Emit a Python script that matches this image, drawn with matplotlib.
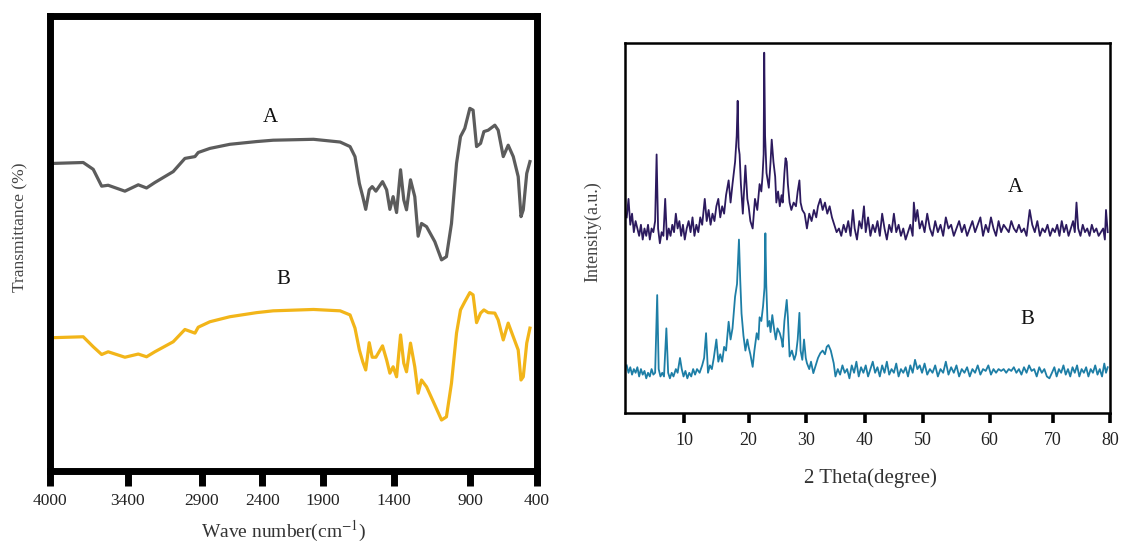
import numpy as np
import matplotlib
matplotlib.use("Agg")
import matplotlib.pyplot as plt

plt.rcParams['font.family'] = ['Liberation Serif', 'DejaVu Serif']
plt.rcParams['mathtext.fontset'] = 'stix'

# ---------------- FTIR data (left panel) ----------------
wavenumber = [3975, 3744, 3667, 3602, 3552, 3423, 3330, 3274, 3218, 3094, 3015, 2947, 2925, 2834,
              2669, 2448, 2311, 1980, 1780, 1710, 1675, 1644, 1620, 1599, 1574, 1553, 1527, 1480,
              1451, 1428, 1405, 1382, 1356, 1335, 1317, 1291, 1263, 1241, 1219, 1186, 1132, 1088,
              1056, 1023, 990, 964, 936, 903, 879, 853, 823, 798, 766, 716, 691, 653, 616, 578,
              541, 520, 503, 477, 453]
trans_A = [67.6, 67.8, 66.3, 62.6, 62.8, 61.5, 62.9, 62.2, 63.4, 65.8, 68.7, 69.1, 70.0, 70.9,
           71.8, 72.4, 72.7, 72.9, 72.3, 71.3, 69.1, 63.2, 60.3, 57.5, 61.8, 62.5, 61.5, 63.6,
           61.8, 57.5, 60.3, 56.8, 66.2, 59.6, 57.4, 64.0, 60.3, 51.6, 54.4, 53.7, 50.4, 46.4,
           47.1, 54.4, 67.6, 73.5, 75.3, 79.7, 79.3, 71.3, 72.0, 74.6, 74.9, 76.0, 74.9, 69.1,
           71.6, 69.1, 64.7, 55.9, 57.4, 65.4, 68.0]
trans_B = [29.3, 29.5, 27.3, 25.6, 26.2, 25.0, 25.7, 25.1, 26.2, 28.4, 31.1, 30.3, 31.6, 32.8,
           33.9, 34.8, 35.2, 35.5, 35.2, 34.3, 31.4, 26.6, 24.0, 22.2, 28.2, 25.0, 25.0, 27.5,
           24.4, 21.5, 22.9, 20.7, 29.9, 23.7, 21.8, 28.1, 22.9, 17.1, 20.0, 18.5, 14.5, 11.2,
           11.9, 19.3, 30.3, 35.4, 37.2, 39.2, 38.7, 32.6, 34.7, 35.4, 34.8, 34.7, 33.2, 28.8,
           32.5, 29.5, 26.6, 20.0, 20.7, 28.1, 31.4]
ir_ticks = [4000, 3400, 2900, 2400, 1900, 1400, 900, 400]

# ---------------- XRD data (right panel) ----------------
xrd_A = [(0.3, 53), (0.6, 58), (0.9, 51), (1.2, 54), (1.5, 49), (1.8, 52), (2.1, 50), (2.4, 48),
         (2.7, 51), (3.0, 47), (3.3, 50), (3.6, 48), (3.9, 51), (4.2, 47), (4.5, 50), (4.8, 49),
         (5.1, 52), (5.35, 70), (5.6, 50), (5.9, 46), (6.2, 49), (6.5, 48), (6.8, 58), (7.1, 47),
         (7.4, 50), (7.7, 48), (8.0, 51), (8.3, 49), (8.6, 54), (8.9, 50), (9.2, 52), (9.5, 48),
         (9.8, 51), (10.1, 47), (10.4, 50), (10.7, 52), (11.0, 49), (11.3, 53), (11.6, 48),
         (11.9, 51), (12.2, 49), (12.5, 53), (12.8, 51), (13.2, 58), (13.5, 52), (13.8, 55),
         (14.1, 51), (14.4, 54), (14.7, 52), (15.0, 56), (15.3, 58), (15.6, 53), (15.9, 56),
         (16.2, 54), (16.5, 59), (16.9, 63), (17.2, 57), (17.5, 62), (17.9, 68), (18.15, 75),
         (18.3, 84.5), (18.45, 72), (18.6, 70), (18.8, 62), (19.1, 54), (19.5, 67), (19.8, 58),
         (20.0, 56), (20.3, 52), (20.7, 50), (21.1, 58), (21.5, 55), (21.9, 62), (22.2, 60),
         (22.4, 64), (22.6, 70), (22.7, 97.5), (22.85, 75), (23.1, 65), (23.5, 61), (23.8, 68),
         (24.0, 74), (24.3, 68), (24.6, 64), (24.8, 57), (25.1, 60), (25.4, 56), (25.7, 59),
         (25.9, 57), (26.2, 65), (26.4, 69), (26.6, 68), (26.8, 62), (27.1, 57), (27.4, 55),
         (27.8, 57), (28.2, 56), (28.5, 60), (28.8, 63), (29.0, 57), (29.3, 55), (29.7, 54),
         (30.1, 50), (30.5, 54), (30.9, 52), (31.3, 55), (31.7, 53), (32.0, 56), (32.4, 58),
         (32.8, 55), (33.2, 57), (33.6, 54), (34.0, 56), (34.4, 53), (34.8, 51), (35.2, 49),
         (35.6, 50), (36.0, 48), (36.4, 51), (36.8, 49), (37.2, 52), (37.6, 48), (38.0, 55),
         (38.3, 50), (38.7, 47), (39.1, 52), (39.5, 50), (39.9, 56), (40.2, 49), (40.6, 53),
         (41.0, 48), (41.4, 51), (41.8, 49), (42.2, 52), (42.6, 48), (43.0, 54), (43.4, 50),
         (43.8, 47), (44.2, 51), (44.6, 49), (45.0, 54), (45.4, 49), (45.8, 51), (46.2, 48),
         (46.6, 50), (47.0, 47), (47.4, 49), (47.8, 51), (48.2, 48), (48.4, 57), (48.7, 52),
         (49.0, 55), (49.4, 50), (49.8, 52), (50.2, 49), (50.6, 54), (51.0, 50), (51.4, 48),
         (51.8, 52), (52.2, 49), (52.6, 51), (53.0, 48), (53.4, 53), (53.8, 50), (54.2, 51),
         (54.6, 48), (55.0, 50), (55.4, 52), (55.8, 49), (56.2, 51), (56.6, 48), (57.0, 50),
         (57.4, 52), (57.8, 49), (58.2, 51), (58.6, 53), (59.0, 48), (59.4, 51), (59.8, 49),
         (60.2, 53), (60.6, 50), (61.0, 48), (61.4, 52), (61.8, 49), (62.2, 51), (62.6, 50),
         (63.0, 49), (63.4, 52), (63.8, 50), (64.2, 49), (64.6, 51), (65.0, 49), (65.4, 50),
         (65.8, 48), (66.3, 55), (66.7, 51), (67.1, 49), (67.5, 52), (67.9, 48), (68.3, 50),
         (68.7, 49), (69.1, 51), (69.5, 48), (69.9, 50), (70.3, 49), (70.7, 51), (71.1, 48),
         (71.5, 52), (71.9, 49), (72.3, 51), (72.7, 48), (73.1, 50), (73.5, 52), (73.8, 49),
         (74.1, 57), (74.4, 50), (74.8, 48), (75.2, 51), (75.6, 49), (76.0, 50), (76.4, 48),
         (76.8, 51), (77.2, 49), (77.6, 50), (78.0, 48), (78.4, 49), (78.8, 50), (79.1, 47),
         (79.3, 55), (79.6, 49)]
xrd_B = [(0.3, 13), (0.6, 11), (0.9, 12.5), (1.2, 10.5), (1.5, 12), (1.8, 11), (2.1, 12.5),
         (2.4, 10), (2.7, 12), (3.0, 10.5), (3.3, 11.5), (3.6, 9.5), (3.9, 11), (4.2, 10),
         (4.5, 12), (4.8, 10.5), (5.1, 11), (5.45, 32), (5.7, 12), (6.0, 10), (6.3, 11),
         (6.6, 10), (7.0, 23), (7.3, 11), (7.6, 9.5), (7.9, 11), (8.2, 10), (8.6, 12), (8.9, 11),
         (9.3, 15), (9.6, 12), (9.9, 10), (10.2, 11.5), (10.5, 9.5), (10.8, 11), (11.1, 10),
         (11.4, 12), (11.7, 10.5), (12.0, 12), (12.4, 11), (12.8, 13), (13.1, 15), (13.4, 21.7),
         (13.7, 11), (14.0, 13), (14.3, 12), (14.6, 15), (15.0, 20), (15.3, 14), (15.6, 16),
         (15.9, 14), (16.2, 18), (16.5, 17), (16.9, 24.8), (17.2, 20), (17.5, 23), (17.9, 31.6),
         (18.2, 35), (18.5, 47), (18.7, 36), (18.9, 27), (19.2, 21), (19.5, 17), (19.8, 20),
         (20.0, 18), (20.3, 16), (20.7, 12.6), (21.0, 17), (21.4, 21.7), (21.7, 20), (21.9, 26),
         (22.2, 25), (22.5, 29), (22.75, 34), (22.9, 48.7), (23.05, 35), (23.3, 23.5), (23.6, 25),
         (23.8, 22), (24.1, 26.6), (24.4, 23), (24.7, 20), (25.0, 23), (25.4, 21.7), (25.7, 20),
         (25.9, 18), (26.2, 25), (26.6, 30.7), (26.8, 26), (27.1, 15.4), (27.5, 17), (27.9, 14.5),
         (28.2, 16), (28.5, 20), (28.8, 27.2), (29.0, 17), (29.3, 14.5), (29.6, 20), (29.9, 15),
         (30.1, 13.6), (30.5, 12), (30.8, 14), (31.2, 10.9), (31.6, 13), (32.0, 15), (32.4, 16.3),
         (32.8, 17), (33.2, 16), (33.5, 18), (33.8, 18.5), (34.2, 17), (34.7, 13.6), (35.0, 10),
         (35.4, 12), (35.8, 10.5), (36.2, 13), (36.6, 11), (37.0, 12), (37.4, 9.5), (37.8, 13),
         (38.2, 11), (38.6, 14), (39.0, 10), (39.4, 12.5), (39.8, 11), (40.2, 13), (40.6, 10),
         (41.0, 12), (41.4, 14), (41.8, 11), (42.2, 12.5), (42.6, 10), (43.0, 13), (43.4, 11),
         (43.8, 14), (44.2, 10.5), (44.6, 12), (45.0, 11), (45.4, 13.5), (45.8, 10), (46.2, 12),
         (46.6, 11), (47.0, 12.5), (47.4, 10), (47.8, 13), (48.2, 11), (48.6, 14.5), (49.0, 12),
         (49.4, 13), (49.8, 11), (50.2, 13.5), (50.6, 10.5), (51.0, 12), (51.4, 11), (51.8, 13),
         (52.2, 10), (52.6, 12), (53.0, 11), (53.4, 14), (53.8, 10.5), (54.2, 12.5), (54.6, 11),
         (55.0, 13), (55.4, 10), (55.8, 12), (56.2, 11), (56.6, 12.5), (57.0, 10), (57.4, 12),
         (57.8, 11), (58.2, 13), (58.6, 10.5), (59.0, 12), (59.4, 11.5), (59.8, 13), (60.2, 10.5),
         (60.6, 12), (61.0, 11), (61.4, 12), (61.8, 11.5), (62.2, 12), (62.6, 11), (63.0, 12),
         (63.4, 11.5), (63.8, 12.5), (64.2, 11), (64.6, 12), (65.0, 10.5), (65.4, 12.5), (65.8, 11),
         (66.2, 13), (66.6, 11.5), (67.0, 12), (67.4, 10), (67.8, 12.5), (68.2, 11), (68.6, 12),
         (69.0, 10), (69.4, 9.5), (69.8, 11), (70.2, 12.5), (70.6, 10), (71.0, 12), (71.4, 11),
         (71.8, 13), (72.2, 10.5), (72.6, 12), (73.0, 10), (73.4, 12.5), (73.8, 11), (74.2, 13),
         (74.6, 10), (75.0, 12), (75.4, 11), (75.8, 12.5), (76.2, 10), (76.6, 12), (77.0, 11),
         (77.4, 13), (77.8, 10.5), (78.2, 12), (78.6, 10), (79.0, 13.5), (79.3, 11), (79.6, 12.5)]
xrd_ticks = [10, 20, 30, 40, 50, 60, 70, 80]

# ---------------- figure ----------------
fig = plt.figure(figsize=(11.23, 5.46), dpi=100)
axL = fig.add_axes([0.0445, 0.1374, 0.4337, 0.8333])
axR = fig.add_axes([0.5565, 0.2427, 0.4319, 0.6777])

# the original axes are drawn with unevenly spaced tick marks: reproduce with a piecewise scale
ir_anchor_w = [400, 900, 1400, 1900, 2400, 2900, 3400, 4000]
ir_anchor_p = [0.0, 0.137, 0.294, 0.439, 0.564, 0.688, 0.840, 1.0]
axL.set_xscale('function', functions=(lambda w: np.interp(w, ir_anchor_w, ir_anchor_p),
                                      lambda p: np.interp(p, ir_anchor_p, ir_anchor_w)))
xrd_anchor_t = [0, 10, 20, 30, 40, 50, 60, 70, 80]
xrd_anchor_p = [0.0, 0.122, 0.255, 0.374, 0.494, 0.615, 0.752, 0.883, 1.0]
axR.set_xscale('function', functions=(lambda t: np.interp(t, xrd_anchor_t, xrd_anchor_p),
                                      lambda p: np.interp(p, xrd_anchor_p, xrd_anchor_t)))

# left: FTIR
axL.plot(wavenumber, trans_A, color='#5c5c5c', lw=2.3, solid_joinstyle='round')
axL.plot(wavenumber, trans_B, color='#f2b519', lw=2.3, solid_joinstyle='round')
axL.set_xlim(4000, 400)
axL.set_ylim(0, 100)
axL.set_yticks([])
axL.set_xticks(ir_ticks)
axL.set_xticklabels([str(t) for t in ir_ticks])
for sp in axL.spines.values():
    sp.set_linewidth(5)
axL.tick_params(axis='x', direction='out', length=11, width=5, pad=5,
                labelsize=12.5, labelcolor='#222222')
axL.text(2338, 77.8, 'A', fontsize=15, ha='center', va='center', color='#111111')
axL.text(2231, 42.0, 'B', fontsize=15, ha='center', va='center', color='#111111')
axL.set_xlabel('Wave number(cm$^{-1}$)', fontsize=14, color='#333333', va='center')
axL.xaxis.set_label_coords(0.480, -0.132)
axL.set_ylabel('Transmittance (%)', fontsize=12.5, color='#444444', va='center')
axL.yaxis.set_label_coords(-0.0616, 0.536)

# right: XRD
tA = [p[0] for p in xrd_A]
iA = [p[1] for p in xrd_A]
tB = [p[0] for p in xrd_B]
iB = [p[1] for p in xrd_B]
axR.plot(tA, iA, color='#2c1a5e', lw=1.3)
axR.plot(tB, iB, color='#1d7ea6', lw=1.3)
axR.set_xlim(0, 80)
axR.set_ylim(0, 100)
axR.set_yticks([])
axR.set_xticks(xrd_ticks)
axR.set_xticklabels([str(t) for t in xrd_ticks])
for sp in axR.spines.values():
    sp.set_linewidth(1.8)
axR.tick_params(axis='x', direction='out', length=7.5, width=2.6, pad=6,
                labelsize=13, labelcolor='#222222')
axR.text(64.1, 61.1, 'A', fontsize=15, ha='center', va='center', color='#111111')
axR.text(66.0, 25.3, 'B', fontsize=15, ha='center', va='center', color='#111111')
axR.set_xlabel('2 Theta(degree)', fontsize=15, color='#333333', va='center')
axR.xaxis.set_label_coords(0.507, -0.176)
axR.set_ylabel('Intensity(a.u.)', fontsize=13, color='#444444', va='center')
axR.yaxis.set_label_coords(-0.066, 0.4905)

fig.savefig('out.png', dpi=100)
